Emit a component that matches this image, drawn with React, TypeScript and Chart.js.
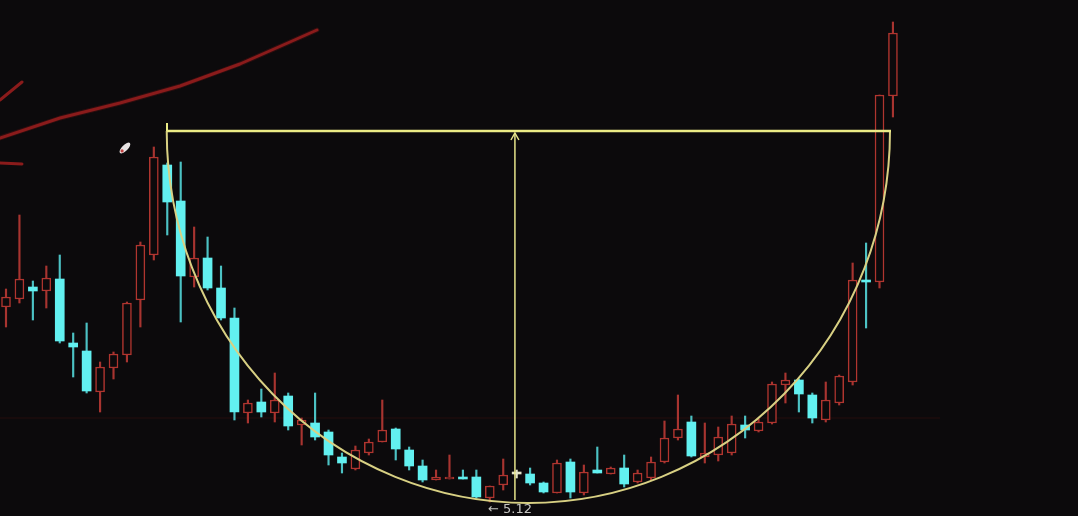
import React, { useEffect, useRef } from "react";
import { Chart, registerables } from "chart.js";

Chart.register(...registerables);

// Candle data (index = trading day)
const opens = [209,217,229,225,237,173,165,124,148,161,216,261,351,315,239,258,228,198,103,114,103,120,91,93,84,59,47,63,74,87,66,50,36,37,39,39,18,31,42,42,33,23,54,23,46,42,48,34,38,54,78,94,59,61,63,91,85,93,131,136,121,96,113,134,236,234,420];
const closes = [219,237,225,238,175,169,125,149,162,213,271,359,314,240,258,228,198,104,113,104,116,90,96,79,61,53,66,74,86,67,50,36,39,39,37,19,30,41,42,33,24,53,24,44,43,48,32,43,54,78,87,60,63,79,92,86,94,132,136,122,98,116,140,236,234,421,483];
const highs = [227,301,235,250,261,183,193,154,164,214,274,369,353,354,289,279,250,208,116,127,143,123,98,123,86,63,70,77,116,88,69,56,46,61,46,46,30,57,46,48,34,56,57,51,69,49,61,46,59,95,121,100,93,89,100,100,97,134,143,137,123,134,141,253,273,421,494];
const lows = [189,213,196,208,173,139,123,104,137,154,189,256,281,194,229,226,196,96,93,99,94,86,71,76,51,43,46,61,74,56,46,34,36,37,37,18,14,26,38,31,23,23,18,21,43,42,29,33,36,53,76,59,53,55,61,78,84,92,113,104,93,94,111,131,188,228,399];

// Annotation geometry (chart units: x = day index, y = price)
const rimLevel = 385;
const rimStart = 11.98;
const rimEnd = 65.78;
const cupCenter = 38.87;
const cupBottom = 13;
const markerIdx = 37.87;
const markerTop = 383;
const markerBottom = 16;
const labelIdx = 35.87;
const labelVal = 6;
const labelText = "\u2190 5.12";
const strokeMainX = [-0.446, 4.02, 8.48, 12.95, 17.41, 21.13, 23.14];
const strokeMainY = [378, 398, 413, 430, 452, 474, 486];
const strokeShortX = [-0.446, 1.19];
const strokeShortY = [416, 434];
const strokeFlatX = [-0.446, 1.19];
const strokeFlatY = [353, 352];
const penIdx = 8.85;
const penVal = 368;
const faintLevel = 98;

const RED = "#b0352f";
const RED_WICK = "#a83430";
const CYAN = "#62f0f0";
const CYAN_WICK = "#4cc2c4";
const DOJI = "#e4e4c8";
const BG = "#0c0a0c";

function kind(i: number) {
  if (closes[i] > opens[i]) return "up";
  if (closes[i] < opens[i]) return "down";
  return "flat";
}

const annotPlugin = {
  id: "cupAnnot",
  beforeDraw(chart: any) {
    const ctx = chart.ctx;
    ctx.save();
    ctx.fillStyle = BG;
    ctx.fillRect(0, 0, chart.width, chart.height);
    ctx.restore();
  },
  beforeDatasetsDraw(chart: any) {
    const ctx = chart.ctx;
    const X = (v: number) => chart.scales.x.getPixelForValue(v);
    const Y = (v: number) => chart.scales.y.getPixelForValue(v);
    ctx.save();
    ctx.strokeStyle = "rgba(90,20,20,0.35)";
    ctx.lineWidth = 1;
    ctx.beginPath();
    ctx.moveTo(X(-0.5), Y(faintLevel));
    ctx.lineTo(X(69.5), Y(faintLevel));
    ctx.stroke();
    ctx.restore();
  },
  afterDatasetsDraw(chart: any) {
    const ctx = chart.ctx;
    const X = (v: number) => chart.scales.x.getPixelForValue(v);
    const Y = (v: number) => chart.scales.y.getPixelForValue(v);
    ctx.save();

    // cup arc
    const cx = X(cupCenter);
    const cy = Y(rimLevel);
    const rx = X(rimEnd) - cx;
    const ry = Y(cupBottom) - cy;
    ctx.strokeStyle = "#d8d083";
    ctx.lineWidth = 2;
    ctx.beginPath();
    ctx.ellipse(cx, cy, rx, ry, 0, 0, Math.PI);
    ctx.stroke();

    // rim line
    ctx.strokeStyle = "#ecec86";
    ctx.lineWidth = 2.5;
    ctx.beginPath();
    ctx.moveTo(X(rimStart), Y(rimLevel));
    ctx.lineTo(X(rimEnd) + 1, Y(rimLevel));
    ctx.stroke();
    ctx.lineWidth = 2;
    ctx.beginPath();
    ctx.moveTo(X(rimStart), Y(rimLevel) - 8);
    ctx.lineTo(X(rimStart), Y(rimLevel));
    ctx.stroke();

    // vertical depth marker with arrow
    ctx.strokeStyle = "#e6e48a";
    ctx.lineWidth = 1.5;
    const mx = X(markerIdx);
    ctx.beginPath();
    ctx.moveTo(mx, Y(markerTop));
    ctx.lineTo(mx, Y(markerBottom));
    ctx.stroke();
    ctx.beginPath();
    ctx.moveTo(mx - 4, Y(markerTop) + 7);
    ctx.lineTo(mx, Y(markerTop));
    ctx.lineTo(mx + 4, Y(markerTop) + 7);
    ctx.stroke();

    // label
    ctx.fillStyle = "#c4c4c0";
    ctx.font = "13px 'DejaVu Sans', sans-serif";
    ctx.textBaseline = "middle";
    ctx.textAlign = "left";
    ctx.fillText(labelText, X(labelIdx), Y(labelVal));

    // hand-drawn red strokes
    ctx.lineCap = "round";
    ctx.lineJoin = "round";
    const drawStroke = (xs: number[], ys: number[]) => {
      ctx.beginPath();
      ctx.moveTo(X(xs[0]), Y(ys[0]));
      for (let i = 1; i < xs.length; i++) {
        ctx.lineTo(X(xs[i]), Y(ys[i]));
      }
      ctx.stroke();
    };
    ctx.strokeStyle = "rgba(140,25,25,0.25)";
    ctx.lineWidth = 5;
    drawStroke(strokeMainX, strokeMainY);
    ctx.strokeStyle = "#8a1b1b";
    ctx.lineWidth = 3;
    drawStroke(strokeMainX, strokeMainY);
    drawStroke(strokeShortX, strokeShortY);
    drawStroke(strokeFlatX, strokeFlatY);

    // pen cursor
    const px = X(penIdx);
    const py = Y(penVal);
    ctx.translate(px, py);
    ctx.rotate(-Math.PI / 4);
    ctx.fillStyle = "#e8e4e4";
    ctx.beginPath();
    ctx.ellipse(0, 0, 7, 3, 0, 0, Math.PI * 2);
    ctx.fill();
    ctx.fillStyle = "#c04040";
    ctx.beginPath();
    ctx.arc(-4, 0, 1.6, 0, Math.PI * 2);
    ctx.fill();

    ctx.restore();
  },
};

export default function App() {
  const ref = useRef<HTMLCanvasElement | null>(null);

  useEffect(() => {
    document.body.style.margin = "0";
    document.body.style.background = BG;
    const canvas = ref.current;
    if (!canvas) return;

    const idx = opens.map((_, i) => i);
    const bodyData = idx.map((i) => ({ x: i, y: [opens[i], closes[i]] }));
    const upperWick = idx.map((i) => ({ x: i, y: [Math.max(opens[i], closes[i]), highs[i]] }));
    const lowerWick = idx.map((i) => ({ x: i, y: [lows[i], Math.min(opens[i], closes[i])] }));
    const wickColor = idx.map((i) => (kind(i) === "up" ? RED_WICK : kind(i) === "down" ? CYAN_WICK : DOJI));
    const bodyFill = idx.map((i) => (kind(i) === "up" ? BG : kind(i) === "down" ? CYAN : DOJI));
    const bodyBorder = idx.map((i) => (kind(i) === "up" ? RED : kind(i) === "down" ? CYAN : DOJI));
    const bodyBorderW = idx.map((i) => (kind(i) === "up" ? 1.5 : 0));

    const chart = new Chart(canvas, {
      type: "bar",
      data: {
        datasets: [
          {
            label: "body",
            data: bodyData as any,
            backgroundColor: bodyFill,
            borderColor: bodyBorder,
            borderWidth: bodyBorderW,
            borderSkipped: false,
            barThickness: 9,
            minBarLength: 2,
            grouped: false,
          } as any,
          {
            label: "upper",
            data: upperWick as any,
            backgroundColor: wickColor,
            borderWidth: 0,
            barThickness: 1.5,
            grouped: false,
          } as any,
          {
            label: "lower",
            data: lowerWick as any,
            backgroundColor: wickColor,
            borderWidth: 0,
            barThickness: 1.5,
            grouped: false,
          } as any,
        ],
      },
      options: {
        responsive: false,
        animation: false,
        maintainAspectRatio: false,
        layout: { padding: 0 },
        plugins: { legend: { display: false }, tooltip: { enabled: false } },
        scales: {
          x: { type: "linear", min: -0.4465, max: 79.77, display: false, offset: false },
          y: { type: "linear", min: 0, max: 516, display: false },
        },
      },
      plugins: [annotPlugin as any],
    });
    return () => chart.destroy();
  }, []);

  return (
    <div style={{ width: 1078, height: 516, background: BG }}>
      <canvas ref={ref} width={1078} height={516} style={{ display: "block" }} />
    </div>
  );
}
